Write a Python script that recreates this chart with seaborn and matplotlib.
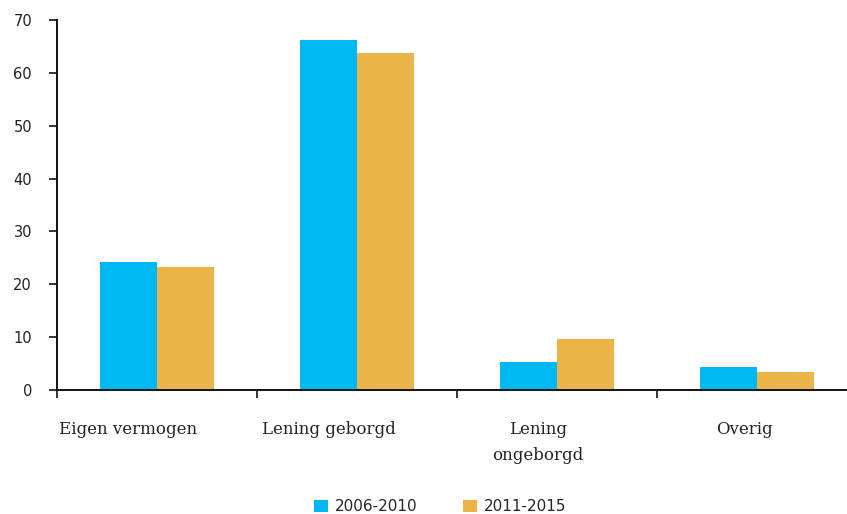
import matplotlib
matplotlib.use("Agg")
import matplotlib.pyplot as plt
import seaborn as sns
import pandas as pd

categories = ["Eigen vermogen", "Lening geborgd", "Lening\nongeborgd", "Overig"]
series_names = ["2006-2010", "2011-2015"]
values_2006_2010 = [24.2, 66.3, 5.3, 4.3]
values_2011_2015 = [23.3, 63.8, 9.7, 3.5]
y_ticks = [0, 10, 20, 30, 40, 50, 60, 70]

colors = ["#00B9F2", "#EBB54A"]

df = pd.DataFrame({
    "categorie": categories * 2,
    "periode": [series_names[0]] * 4 + [series_names[1]] * 4,
    "waarde": values_2006_2010 + values_2011_2015,
})

sns.set_theme(style="white")
plt.rcParams["font.family"] = ["DejaVu Sans"]

fig = plt.figure(figsize=(8.47, 5.14), dpi=100)
ax = fig.add_axes([57 / 847, 1 - 390 / 514, 1 - 57 / 847, (390 - 20) / 514])

sns.barplot(data=df, x="categorie", y="waarde", hue="periode",
            palette=colors, width=0.57, saturation=1, ax=ax, legend=True,
            edgecolor="none", linewidth=0)

ax.set_xlim(-0.5, 3.45)
ax.set_ylim(0, 70)
ax.set_yticks(y_ticks)
ax.set_yticklabels([str(v) for v in y_ticks], fontsize=10.5, color="#222222")
ax.set_xlabel("")
ax.set_ylabel("")

# category boundaries as major ticks, labels on minor ticks
n = len(categories)
ax.set_xticks([i - 0.5 for i in range(n)])
ax.set_xticklabels([""] * n)
label_offsets = [-0.145, -0.14, -0.095, -0.065]
ax.set_xticks([i + label_offsets[i] for i in range(n)], minor=True)
ax.set_xticklabels(categories, minor=True, fontsize=12, family="DejaVu Serif",
                   color="#222222", linespacing=1.7, va="top")
ax.tick_params(axis="x", which="minor", length=0, pad=22)
ax.tick_params(axis="x", which="major", length=6, width=1.2, color="#111111",
               direction="out", bottom=True)
ax.tick_params(axis="y", length=6, width=1.2, color="#111111", direction="out",
               left=True, pad=12)

for side in ["top", "right"]:
    ax.spines[side].set_visible(False)
for side in ["left", "bottom"]:
    ax.spines[side].set_color("#111111")
    ax.spines[side].set_linewidth(1.4)
ax.spines["left"].set_zorder(5)

handles, labels = ax.get_legend_handles_labels()
ax.get_legend().remove()
fig.legend(handles, labels, loc="lower center", bbox_to_anchor=(440 / 847, -0.027),
           ncol=2, frameon=False, fontsize=11, handlelength=0.9, handleheight=0.9,
           handletextpad=0.45, columnspacing=3.0)

fig.savefig("out.png", dpi=100)
